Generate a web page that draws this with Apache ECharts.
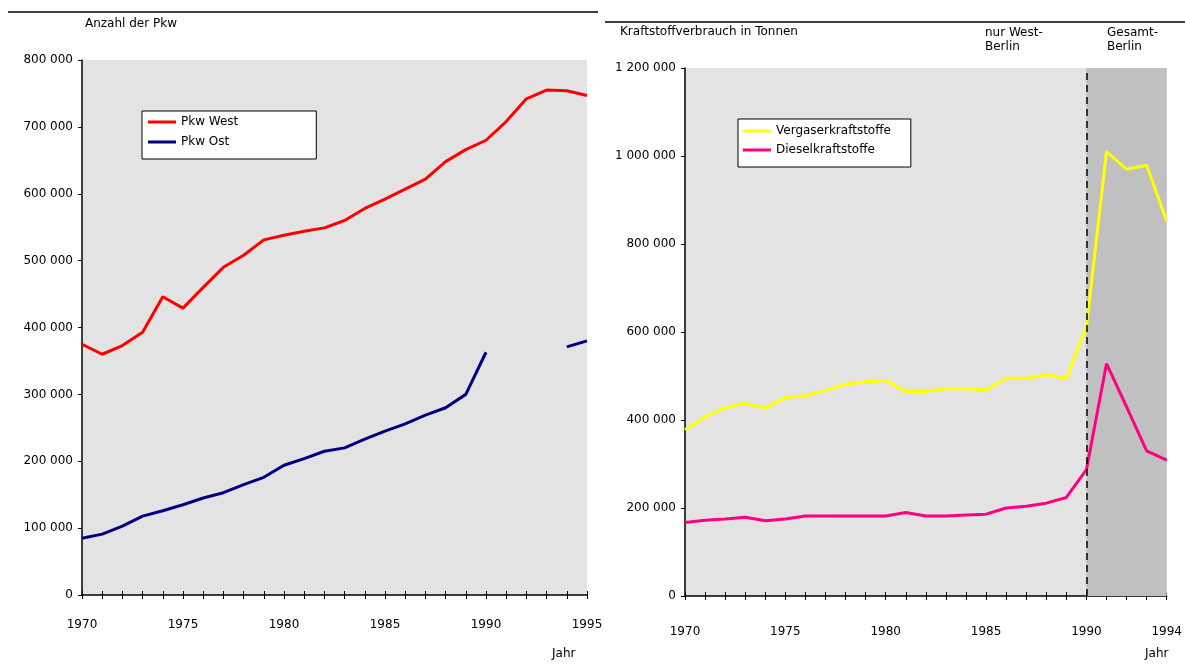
<!DOCTYPE html>
<html>
<head>
<meta charset="utf-8">
<script src="https://cdn.jsdelivr.net/npm/echarts@6/dist/echarts.min.js"></script>
<style>
  html, body { margin: 0; padding: 0; background: #ffffff; }
  #chart { width: 1185px; height: 664px; }
</style>
</head>
<body>
<div id="chart"></div>
<script>
// Passenger cars registered in Berlin (West / East), 1970-1995
const carYears = [1970, 1971, 1972, 1973, 1974, 1975, 1976, 1977, 1978, 1979, 1980, 1981, 1982,
                  1983, 1984, 1985, 1986, 1987, 1988, 1989, 1990, 1991, 1992, 1993, 1994, 1995];
const pkwWest = [375000, 360000, 373000, 393000, 446000, 429000, 460000, 490000, 508000, 531000,
                 538000, 544000, 549000, 560000, 578000, 592000, 607000, 622000, 648000, 666000,
                 680000, 708000, 742000, 755000, 754000, 747000];
const pkwOst = [85000, 91000, 103000, 118000, 126000, 135000, 145000, 153000, 165000, 176000,
                194000, 204000, 215000, 220000, 233000, 245000, 256000, 269000, 280000, 300000,
                363000, null, null, null, 371000, 380000];
const carLabelYears = [1970, 1975, 1980, 1985, 1990, 1995];

// Fuel consumption in tonnes, 1970-1994
const fuelYears = [1970, 1971, 1972, 1973, 1974, 1975, 1976, 1977, 1978, 1979, 1980, 1981, 1982,
                   1983, 1984, 1985, 1986, 1987, 1988, 1989, 1990, 1991, 1992, 1993, 1994];
const vergaser = [378000, 407000, 428000, 438000, 427000, 451000, 455000, 468000, 481000, 487000,
                  490000, 465000, 465000, 471000, 471000, 468000, 495000, 495000, 503000, 495000,
                  612000, 1010000, 970000, 979000, 852000];
const diesel = [167000, 172000, 175000, 179000, 171000, 175000, 182000, 182000, 182000, 182000,
                182000, 190000, 182000, 182000, 184000, 186000, 200000, 204000, 211000, 224000,
                287000, 528000, 430000, 330000, 309000];
const fuelLabelYears = [1970, 1975, 1980, 1985, 1990, 1994];
const wholeCityPeriod = [1990, 1994];

const FONT = "'DejaVu Sans', sans-serif";
const pairs = (xs, ys) => xs.map((x, i) => [x, ys[i]]);
const spaced = v => String(v).replace(/\B(?=(\d{3})+(?!\d))/g, ' ');
const txt = { fontFamily: FONT, fontSize: 12, color: '#000', fontWeight: 'normal' };

function xAxisPair(grid, min, max, labelYears, margin) {
  const base = {
    gridIndex: grid, type: 'value', min: min, max: max, interval: 1,
    splitLine: { show: false }
  };
  return [
    Object.assign({}, base, {
      axisLine: { show: true, lineStyle: { color: '#000', width: 1.5 } },
      axisTick: { show: true, length: 4, lineStyle: { color: '#000', width: 1 } },
      axisLabel: {
        margin: margin, fontFamily: FONT, fontSize: 12, color: '#000',
        formatter: v => labelYears.includes(v) ? String(v) : ''
      }
    }),
    Object.assign({}, base, {
      position: 'bottom',
      axisLine: { show: false },
      axisTick: { show: true, inside: true, length: 4, lineStyle: { color: '#000', width: 1 } },
      axisLabel: { show: false }
    })
  ];
}

function yAxis(grid, max, interval) {
  return {
    gridIndex: grid, type: 'value', min: 0, max: max, interval: interval,
    splitLine: { show: false },
    axisLine: { show: true, lineStyle: { color: '#000', width: 1.5 } },
    axisTick: { show: true, length: 4, lineStyle: { color: '#000', width: 1 } },
    axisLabel: { margin: 9, fontFamily: FONT, fontSize: 12, color: '#000', formatter: spaced }
  };
}

const legendBase = {
  orient: 'vertical',
  backgroundColor: '#ffffff',
  borderColor: '#000',
  borderWidth: 1,
  borderRadius: 0,
  icon: 'rect',
  itemWidth: 28,
  itemHeight: 3,
  textStyle: { fontFamily: FONT, fontSize: 12, color: '#000', lineHeight: 14 }
};

const chart = echarts.init(document.getElementById('chart'), null, { renderer: 'canvas' });
chart.setOption({
  animation: false,
  backgroundColor: '#ffffff',
  title: [
    { text: 'Anzahl der Pkw', left: 85, top: 18, padding: 0, textStyle: txt },
    { text: 'Kraftstoffverbrauch in Tonnen', left: 620, top: 26, padding: 0, textStyle: txt },
    { text: 'nur West-\nBerlin', left: 985, top: 26, padding: 0, textStyle: Object.assign({ lineHeight: 14 }, txt) },
    { text: 'Gesamt-\nBerlin', left: 1107, top: 26, padding: 0, textStyle: Object.assign({ lineHeight: 14 }, txt) },
    { text: 'Jahr', left: 552, top: 648, padding: 0, textStyle: txt },
    { text: 'Jahr', left: 1145, top: 648, padding: 0, textStyle: txt }
  ],
  graphic: [
    { type: 'line', shape: { x1: 8, y1: 12, x2: 598, y2: 12 }, style: { stroke: '#000', lineWidth: 1.5 } },
    { type: 'line', shape: { x1: 605, y1: 22, x2: 1185, y2: 22 }, style: { stroke: '#000', lineWidth: 1.5 } }
  ],
  legend: [
    Object.assign({}, legendBase, {
      left: 142, top: 111, padding: [4, 78, 10, 6], itemGap: 6,
      data: ['Pkw West', 'Pkw Ost']
    }),
    Object.assign({}, legendBase, {
      left: 738, top: 119, padding: [5, 20, 10, 5], itemGap: 5,
      data: ['Vergaserkraftstoffe', 'Dieselkraftstoffe']
    })
  ],
  grid: [
    { left: 82, top: 60, width: 505, height: 535, show: true, backgroundColor: '#e3e3e3', borderWidth: 0 },
    { left: 685, top: 68, width: 483, height: 528, show: true, backgroundColor: '#e3e3e3', borderWidth: 0 }
  ],
  xAxis: [].concat(
    xAxisPair(0, 1970, 1995, carLabelYears, 24),
    xAxisPair(1, 1970, 1994, fuelLabelYears, 30)
  ),
  yAxis: [
    yAxis(0, 800000, 100000),
    yAxis(1, 1200000, 200000)
  ],
  series: [
    {
      name: 'Pkw West', type: 'line', xAxisIndex: 0, yAxisIndex: 0,
      data: pairs(carYears, pkwWest), showSymbol: false,
      lineStyle: { color: '#ff0000', width: 3 }, itemStyle: { color: '#ff0000' }
    },
    {
      name: 'Pkw Ost', type: 'line', xAxisIndex: 0, yAxisIndex: 0,
      data: pairs(carYears, pkwOst), showSymbol: false, connectNulls: false,
      lineStyle: { color: '#000080', width: 3 }, itemStyle: { color: '#000080' }
    },
    {
      name: 'Vergaserkraftstoffe', type: 'line', xAxisIndex: 2, yAxisIndex: 1,
      data: pairs(fuelYears, vergaser), showSymbol: false,
      lineStyle: { color: '#ffff00', width: 3 }, itemStyle: { color: '#ffff00' },
      markArea: {
        silent: true,
        itemStyle: { color: '#c0c0c0' },
        data: [[{ xAxis: wholeCityPeriod[0] }, { xAxis: wholeCityPeriod[1] }]]
      },
      markLine: {
        silent: true, symbol: 'none', label: { show: false },
        lineStyle: { color: '#000', type: [7, 5], width: 1.5 },
        data: [{ xAxis: wholeCityPeriod[0] }]
      }
    },
    {
      name: 'Dieselkraftstoffe', type: 'line', xAxisIndex: 2, yAxisIndex: 1,
      data: pairs(fuelYears, diesel), showSymbol: false,
      lineStyle: { color: '#ff0080', width: 3 }, itemStyle: { color: '#ff0080' }
    }
  ]
});
</script>
</body>
</html>
